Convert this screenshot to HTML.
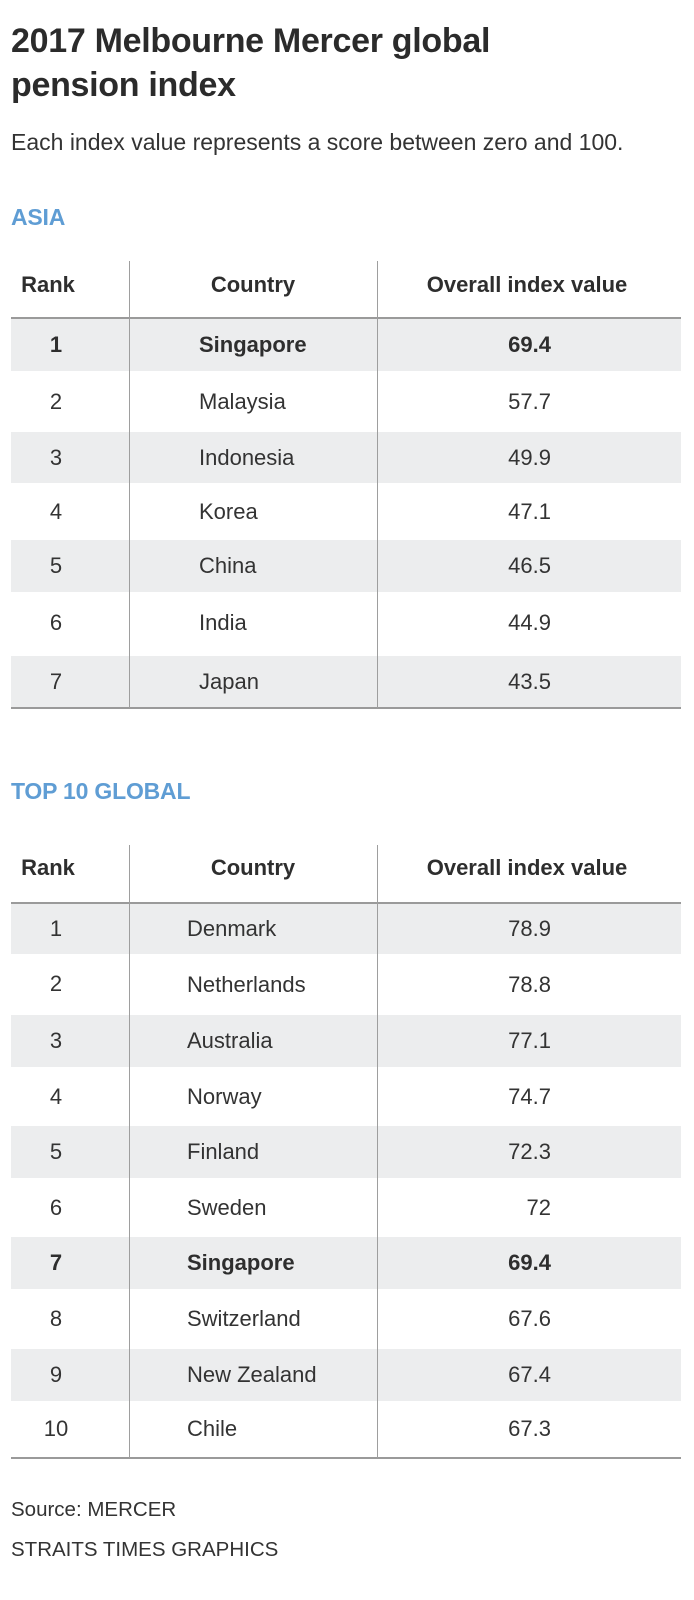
<!DOCTYPE html>
<html>
<head>
<meta charset="utf-8">
<style>
  html,body{margin:0;padding:0;background:#fff;}
  body{width:694px;height:1600px;position:relative;overflow:hidden;font-family:"Liberation Sans",Arial,sans-serif;color:#333;}
  .abs{position:absolute;white-space:nowrap;}
  .title{left:11px;font-size:34px;font-weight:bold;line-height:44px;letter-spacing:-0.3px;color:#2b2b2b;}
  .sub{left:11px;top:127px;font-size:23px;line-height:30px;color:#333;}
  .sec{left:11px;font-size:23px;font-weight:bold;line-height:30px;color:#5f9dd4;letter-spacing:-0.2px;}
  .foot{left:11px;font-size:20.5px;line-height:30px;color:#333;}
  .hline{position:absolute;left:11px;width:670px;height:2px;background:#9a9a9a;}
  .vline{position:absolute;width:1px;background:#9e9e9e;}
  .row{position:absolute;left:11px;width:670px;}
  .row.g{background:#ecedee;}
  .row span{position:absolute;top:0;white-space:nowrap;font-size:22px;color:#333;}
  .rk{left:0;width:90px;text-align:center;}
  .vl{right:130px;text-align:right;}
  .b span{font-weight:bold;color:#2e2e2e;}
  .hdr{position:absolute;left:11px;width:670px;height:48px;}
  .hdr span{position:absolute;top:0;line-height:48px;font-size:22px;font-weight:bold;color:#2e2e2e;white-space:nowrap;}
</style>
</head>
<body>

<div class="abs title" style="top:19px;">2017 Melbourne Mercer global</div>
<div class="abs title" style="top:63px;">pension index</div>
<div class="abs sub">Each index value represents a score between zero and 100.</div>

<div class="abs sec" style="top:202px;">ASIA</div>

<!-- Table 1 -->
<div class="hdr" style="top:261px;">
  <span style="left:0;width:74px;text-align:center;">Rank</span>
  <span style="left:118px;width:248px;text-align:center;">Country</span>
  <span style="left:366px;width:300px;text-align:center;">Overall index value</span>
</div>

<div class="row g b" style="top:319px;height:52px;">
  <span class="rk" style="line-height:52px;">1</span>
  <span style="left:188px;line-height:52px;">Singapore</span>
  <span class="vl" style="line-height:52px;">69.4</span>
</div>
<div class="row" style="top:371px;height:61px;">
  <span class="rk" style="line-height:61px;">2</span>
  <span style="left:188px;line-height:61px;">Malaysia</span>
  <span class="vl" style="line-height:61px;">57.7</span>
</div>
<div class="row g" style="top:432px;height:51px;">
  <span class="rk" style="line-height:51px;">3</span>
  <span style="left:188px;line-height:51px;">Indonesia</span>
  <span class="vl" style="line-height:51px;">49.9</span>
</div>
<div class="row" style="top:483px;height:57px;">
  <span class="rk" style="line-height:57px;">4</span>
  <span style="left:188px;line-height:57px;">Korea</span>
  <span class="vl" style="line-height:57px;">47.1</span>
</div>
<div class="row g" style="top:540px;height:52px;">
  <span class="rk" style="line-height:52px;">5</span>
  <span style="left:188px;line-height:52px;">China</span>
  <span class="vl" style="line-height:52px;">46.5</span>
</div>
<div class="row" style="top:592px;height:64px;">
  <span class="rk" style="line-height:62px;">6</span>
  <span style="left:188px;line-height:62px;">India</span>
  <span class="vl" style="line-height:62px;">44.9</span>
</div>
<div class="row g" style="top:656px;height:51px;">
  <span class="rk" style="line-height:52px;">7</span>
  <span style="left:188px;line-height:52px;">Japan</span>
  <span class="vl" style="line-height:52px;">43.5</span>
</div>

<div class="hline" style="top:317px;"></div>
<div class="hline" style="top:707px;"></div>
<div class="vline" style="left:129px;top:261px;height:447px;"></div>
<div class="vline" style="left:377px;top:261px;height:447px;"></div>

<div class="abs sec" style="top:776px;">TOP 10 GLOBAL</div>

<!-- Table 2 -->
<div class="hdr" style="top:844px;">
  <span style="left:0;width:74px;text-align:center;">Rank</span>
  <span style="left:118px;width:248px;text-align:center;">Country</span>
  <span style="left:366px;width:300px;text-align:center;">Overall index value</span>
</div>

<div class="row g" style="top:904px;height:50px;">
  <span class="rk" style="line-height:50px;">1</span>
  <span style="left:176px;line-height:50px;">Denmark</span>
  <span class="vl" style="line-height:50px;">78.9</span>
</div>
<div class="row" style="top:954px;height:61px;">
  <span class="rk" style="line-height:60px;">2</span>
  <span style="left:176px;line-height:61px;">Netherlands</span>
  <span class="vl" style="line-height:61px;">78.8</span>
</div>
<div class="row g" style="top:1015px;height:52px;">
  <span class="rk" style="line-height:52px;">3</span>
  <span style="left:176px;line-height:52px;">Australia</span>
  <span class="vl" style="line-height:52px;">77.1</span>
</div>
<div class="row" style="top:1067px;height:59px;">
  <span class="rk" style="line-height:59px;">4</span>
  <span style="left:176px;line-height:59px;">Norway</span>
  <span class="vl" style="line-height:59px;">74.7</span>
</div>
<div class="row g" style="top:1126px;height:52px;">
  <span class="rk" style="line-height:52px;">5</span>
  <span style="left:176px;line-height:52px;">Finland</span>
  <span class="vl" style="line-height:52px;">72.3</span>
</div>
<div class="row" style="top:1178px;height:59px;">
  <span class="rk" style="line-height:59px;">6</span>
  <span style="left:176px;line-height:59px;">Sweden</span>
  <span class="vl" style="line-height:59px;">72</span>
</div>
<div class="row g b" style="top:1237px;height:52px;">
  <span class="rk" style="line-height:52px;">7</span>
  <span style="left:176px;line-height:52px;">Singapore</span>
  <span class="vl" style="line-height:52px;">69.4</span>
</div>
<div class="row" style="top:1289px;height:60px;">
  <span class="rk" style="line-height:60px;">8</span>
  <span style="left:176px;line-height:60px;">Switzerland</span>
  <span class="vl" style="line-height:60px;">67.6</span>
</div>
<div class="row g" style="top:1349px;height:52px;">
  <span class="rk" style="line-height:52px;">9</span>
  <span style="left:176px;line-height:52px;">New Zealand</span>
  <span class="vl" style="line-height:52px;">67.4</span>
</div>
<div class="row" style="top:1401px;height:56px;">
  <span class="rk" style="line-height:56px;">10</span>
  <span style="left:176px;line-height:56px;">Chile</span>
  <span class="vl" style="line-height:56px;">67.3</span>
</div>

<div class="hline" style="top:902px;"></div>
<div class="hline" style="top:1457px;"></div>
<div class="vline" style="left:129px;top:845px;height:613px;"></div>
<div class="vline" style="left:377px;top:845px;height:613px;"></div>

<div class="abs foot" style="top:1495px;">Source: MERCER</div>
<div class="abs foot" style="top:1535px;">STRAITS TIMES GRAPHICS</div>

</body>
</html>
